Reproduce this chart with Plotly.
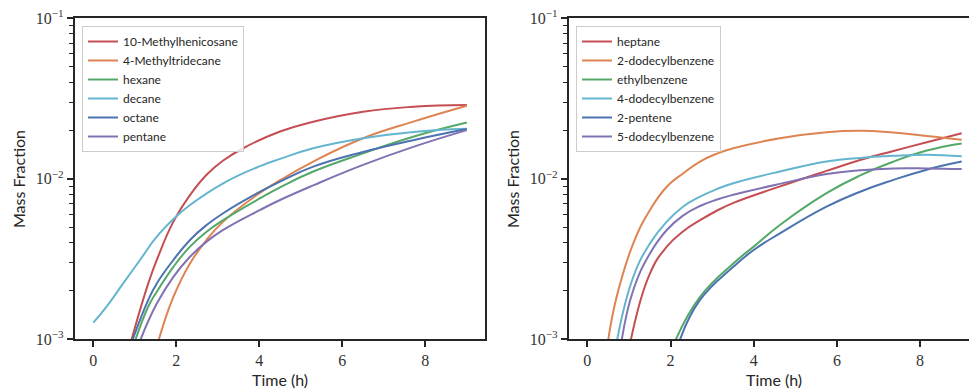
import plotly.graph_objects as go

# ---------------- data ----------------
# Left panel
t_mhc = [0.925, 1.125, 1.325, 1.53, 1.93, 2.33, 2.73, 3.13, 3.61, 4.5, 5.3, 6.5, 7.71, 9.0]
y_mhc = [1.0e-3, 1.52e-3, 2.23e-3, 3.12e-3, 5.41e-3, 7.92e-3, 1.06e-2, 1.30e-2, 1.55e-2, 1.97e-2, 2.27e-2, 2.62e-2, 2.81e-2, 2.88e-2]

t_mtd = [1.58, 1.93, 2.33, 2.73, 3.13, 3.94, 4.5, 5.3, 6.5, 7.71, 9.0]
y_mtd = [1.0e-3, 1.84e-3, 2.97e-3, 4.16e-3, 5.41e-3, 7.92e-3, 9.8e-3, 1.28e-2, 1.79e-2, 2.27e-2, 2.85e-2]

t_hex = [1.02, 1.325, 1.53, 1.93, 2.33, 2.73, 3.13, 4.02, 4.5, 5.3, 6.5, 7.71, 9.0]
y_hex = [1.0e-3, 1.6e-3, 1.98e-3, 2.83e-3, 3.78e-3, 4.68e-3, 5.53e-3, 7.57e-3, 8.85e-3, 1.11e-2, 1.44e-2, 1.83e-2, 2.24e-2]

t_dec = [0.0, 0.32, 0.72, 1.125, 1.53, 1.99, 2.33, 3.13, 4.02, 4.5, 5.3, 6.5, 7.71, 9.0]
y_dec = [1.27e-3, 1.6e-3, 2.23e-3, 3.12e-3, 4.36e-3, 5.8e-3, 6.87e-3, 9.38e-3, 1.2e-2, 1.33e-2, 1.55e-2, 1.79e-2, 1.96e-2, 2.05e-2]

t_oct = [0.95, 1.325, 1.53, 1.93, 2.33, 2.73, 3.13, 4.02, 4.5, 5.3, 6.5, 7.71, 9.0]
y_oct = [1.0e-3, 1.76e-3, 2.23e-3, 3.12e-3, 4.16e-3, 5.15e-3, 6.1e-3, 8.31e-3, 9.6e-3, 1.19e-2, 1.47e-2, 1.74e-2, 2.04e-2]

t_pen = [1.14, 1.53, 1.93, 2.33, 2.73, 3.13, 4.02, 4.5, 5.3, 6.5, 7.71, 9.0]
y_pen = [1.0e-3, 1.67e-3, 2.45e-3, 3.27e-3, 4.06e-3, 4.8e-3, 6.4e-3, 7.38e-3, 9.1e-3, 1.22e-2, 1.58e-2, 2.01e-2]

# Right panel
t_hep = [1.05, 1.5, 1.9, 2.3, 2.7, 3.1, 3.5, 4.6, 5.75, 6.56, 7.36, 8.16, 9.0]
y_hep = [1.0e-3, 2.55e-3, 3.75e-3, 4.7e-3, 5.5e-3, 6.3e-3, 7.05e-3, 8.9e-3, 1.12e-2, 1.31e-2, 1.49e-2, 1.69e-2, 1.92e-2]

t_2db = [0.505, 0.706, 1.106, 1.507, 1.91, 2.3, 2.71, 3.1, 3.51, 4.63, 5.75, 6.56, 7.36, 8.16, 9.0]
y_2db = [1.0e-3, 1.84e-3, 3.96e-3, 6.4e-3, 8.93e-3, 1.08e-2, 1.28e-2, 1.43e-2, 1.55e-2, 1.79e-2, 1.95e-2, 1.99e-2, 1.94e-2, 1.85e-2, 1.75e-2]

t_eth = [2.13, 2.71, 3.51, 4.0, 4.63, 5.75, 6.56, 7.36, 8.16, 9.0]
y_eth = [1.0e-3, 1.84e-3, 2.97e-3, 3.78e-3, 5.15e-3, 8.13e-3, 1.05e-2, 1.28e-2, 1.5e-2, 1.66e-2]

t_4db = [0.72, 1.106, 1.507, 1.91, 2.3, 2.71, 3.1, 3.51, 4.63, 5.75, 6.56, 7.36, 8.16, 9.0]
y_4db = [1.0e-3, 2.45e-3, 3.96e-3, 5.41e-3, 6.7e-3, 7.74e-3, 8.6e-3, 9.38e-3, 1.11e-2, 1.28e-2, 1.35e-2, 1.39e-2, 1.41e-2, 1.38e-2]

t_2pe = [2.23, 2.71, 3.51, 4.0, 4.63, 5.75, 6.56, 7.36, 8.16, 9.0]
y_2pe = [1.0e-3, 1.76e-3, 2.83e-3, 3.6e-3, 4.57e-3, 6.7e-3, 8.31e-3, 9.84e-3, 1.14e-2, 1.28e-2]

t_5db = [0.83, 1.106, 1.507, 1.91, 2.3, 2.71, 3.1, 3.51, 4.63, 5.75, 6.56, 7.36, 8.16, 9.0]
y_5db = [1.0e-3, 2.03e-3, 3.43e-3, 4.8e-3, 5.9e-3, 6.77e-3, 7.4e-3, 7.95e-3, 9.3e-3, 1.07e-2, 1.13e-2, 1.16e-2, 1.16e-2, 1.15e-2]

x_ticks = [0, 2, 4, 6, 8]
y_major = [1e-3, 1e-2, 1e-1]
y_major_text = ["10<sup>−3</sup>", "10<sup>−2</sup>", "10<sup>−1</sup>"]
y_minor = [k * 10.0 ** e for e in (-3, -2) for k in range(2, 10)]

RED, ORANGE, GREEN, CYAN, BLUE, PURPLE = "#c44e52", "#dd8452", "#55a868", "#64b5cd", "#4c72b0", "#8172b3"

left_series = [
    ("10-Methylhenicosane", t_mhc, y_mhc, RED),
    ("4-Methyltridecane", t_mtd, y_mtd, ORANGE),
    ("hexane", t_hex, y_hex, GREEN),
    ("decane", t_dec, y_dec, CYAN),
    ("octane", t_oct, y_oct, BLUE),
    ("pentane", t_pen, y_pen, PURPLE),
]
right_series = [
    ("heptane", t_hep, y_hep, RED),
    ("2-dodecylbenzene", t_2db, y_2db, ORANGE),
    ("ethylbenzene", t_eth, y_eth, GREEN),
    ("4-dodecylbenzene", t_4db, y_4db, CYAN),
    ("2-pentene", t_2pe, y_2pe, BLUE),
    ("5-dodecylbenzene", t_5db, y_5db, PURPLE),
]

W, H = 969, 389
SANS = "Lato, 'DejaVu Sans', sans-serif"
SERIF = "'Liberation Serif', 'DejaVu Serif', serif"
SPINE = "#262626"

fig = go.Figure()
for name, t, y, c in left_series:
    fig.add_trace(go.Scatter(x=t, y=y, mode="lines", name=name,
                             line=dict(color=c, width=2, shape="spline", smoothing=1.3),
                             xaxis="x", yaxis="y", legend="legend"))
for name, t, y, c in right_series:
    fig.add_trace(go.Scatter(x=t, y=y, mode="lines", name=name,
                             line=dict(color=c, width=2, shape="spline", smoothing=1.3),
                             xaxis="x2", yaxis="y2", legend="legend2"))

# pixel geometry
top_px, bot_px = 18.3, 339.3
yd = [1 - bot_px / H, 1 - top_px / H]
L1 = (93.3 - 0.45 * 41.5) / W
R1 = (93.3 + 9.45 * 41.5) / W
L2 = (587.3 - 0.45 * 41.6) / W
xr2 = (W - 587.3) / 41.6

common_x = dict(tickvals=x_ticks, ticktext=[str(v) for v in x_ticks], ticks="outside", ticklen=6, tickwidth=1.5,
                tickcolor=SPINE, showline=True, linecolor=SPINE, linewidth=1.6, showgrid=False, zeroline=False,
                automargin=False, tickfont=dict(family=SERIF, size=16, color="#333"))
common_y = dict(type="log", range=[-3, -1], domain=yd, tickvals=y_major, ticktext=y_major_text, ticks="outside",
                ticklen=6, tickwidth=1.5, tickcolor=SPINE, showline=True, linecolor=SPINE, linewidth=1.6,
                showgrid=False, zeroline=False, automargin=False, tickfont=dict(family=SERIF, size=16, color="#333"),
                minor=dict(tickvals=y_minor, ticks="outside", ticklen=4, tickwidth=1, tickcolor=SPINE, showgrid=False))

legend_common = dict(xanchor="left", yanchor="top", bgcolor="rgba(255,255,255,0.8)",
                     bordercolor="#cccccc", borderwidth=1, font=dict(family=SANS, size=12, color="#262626"),
                     itemwidth=30, tracegroupgap=0)

fig.update_layout(
    width=W, height=H, margin=dict(l=0, r=0, t=0, b=0, autoexpand=False),
    paper_bgcolor="white", plot_bgcolor="white", showlegend=True,
    xaxis=dict(common_x, domain=[L1, R1], range=[-0.45, 9.45], mirror=True, anchor="y"),
    yaxis=dict(common_y, mirror=True, anchor="x"),
    xaxis2=dict(common_x, domain=[L2, 1.0], range=[-0.45, xr2], mirror=True, anchor="y2"),
    yaxis2=dict(common_y, mirror=False, anchor="x2"),
    legend=dict(legend_common, x=82 / W, y=1 - 26 / H),
    legend2=dict(legend_common, x=576 / W, y=1 - 26 / H),
    annotations=[
        dict(text="Mass Fraction", x=18 / W, y=1 - 179 / H, xref="paper", yref="paper", textangle=-90,
             xanchor="center", yanchor="middle", showarrow=False, font=dict(family=SANS, size=16, color="#262626")),
        dict(text="Mass Fraction", x=512 / W, y=1 - 179 / H, xref="paper", yref="paper", textangle=-90,
             xanchor="center", yanchor="middle", showarrow=False, font=dict(family=SANS, size=16, color="#262626")),
        dict(text="Time (h)", x=280 / W, y=1 - 379 / H, xref="paper", yref="paper",
             xanchor="center", yanchor="middle", showarrow=False, font=dict(family=SANS, size=16, color="#262626")),
        dict(text="Time (h)", x=774 / W, y=1 - 379 / H, xref="paper", yref="paper",
             xanchor="center", yanchor="middle", showarrow=False, font=dict(family=SANS, size=16, color="#262626")),
    ],
)

fig.write_html("out.html")
